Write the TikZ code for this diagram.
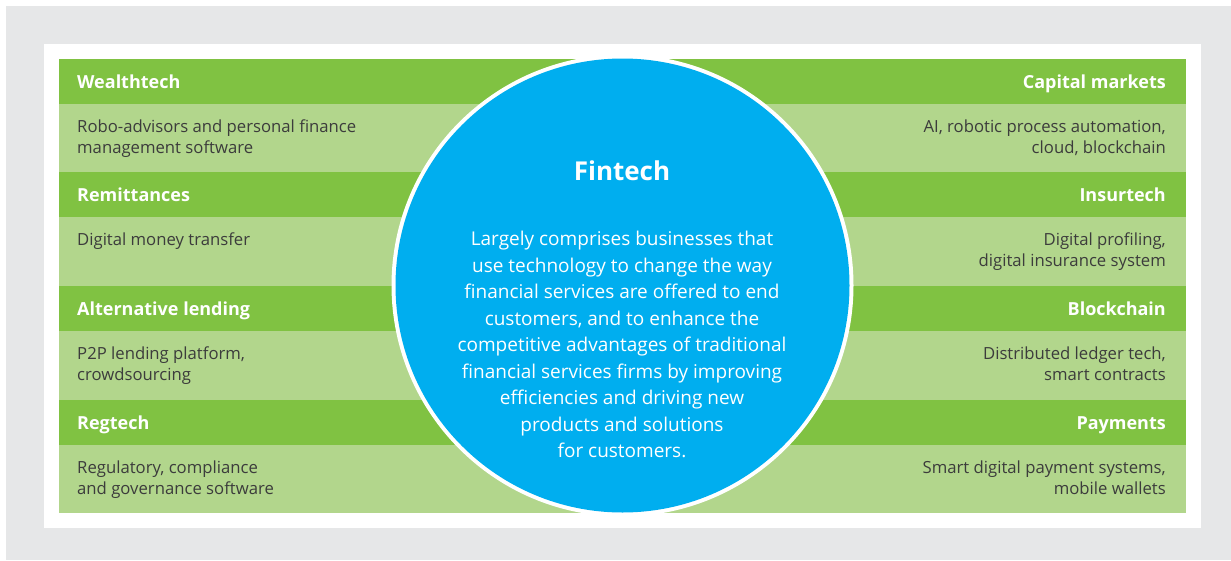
\documentclass[tikz,border=0pt]{standalone}
\usepackage{fontspec}
\setmainfont{Open Sans}
\definecolor{bggray}{HTML}{E6E7E8}
\definecolor{hdgreen}{HTML}{80C242}
\definecolor{ltgreen}{HTML}{B2D68C}
\definecolor{fintechblue}{HTML}{00AEEF}
\definecolor{bodytext}{HTML}{3C3C3C}
\begin{document}
\begin{tikzpicture}[x=1pt,y=-1pt,
  header/.style={font=\fontsize{18}{20}\selectfont\bfseries, text=white, inner sep=0pt},
  body/.style={font=\fontsize{16.7}{21}\selectfont, text=bodytext, inner sep=0pt},
  bandhead/.style={fill=hdgreen, draw=none},
  bandbody/.style={fill=ltgreen, draw=none}]
  % page and frame
  \useasboundingbox (0,0) rectangle (1231,560);
  \fill[white] (0,0) rectangle (1231,560);
  \fill[bggray] (6,6) rectangle (1231,560);
  \fill[white] (44,44) rectangle (1201,528);
  % four green bands, each with a title strip and a description strip
  \foreach \t/\m/\b in {59/104/172, 172/217/286, 286/331/400, 400/445/513} {
    \fill[bandhead] (59,\t) rectangle (1186,\m);
    \fill[bandbody] (59,\m) rectangle (1186,\b);
  }
  % central circle
  \fill[white] (622.5,285.5) circle[radius=231];
  \node[circle, fill=fintechblue, minimum size=454pt, inner sep=0pt] (core) at (622.5,285.5) {};
  \node[font=\fontsize{26}{30}\selectfont\bfseries, text=white] (title) at (622,171) {Fintech};
  \node[font=\fontsize{19}{26.5}\selectfont, text=white, align=center, anchor=north] (desc) at (622,228)
    {Largely comprises businesses that\\
     use technology to change the way\\
     financial services are offered to end\\
     customers, and to enhance the\\
     competitive advantages of traditional\\
     financial services firms by improving\\
     efficiencies and driving new\\
     products and solutions\\
     for customers.};
  % left column
  \node[header, anchor=base west] (wealth) at (77,88.3) {Wealthtech};
  \node[body, anchor=north west, align=left] (wealthd) at (77,120) {Robo-advisors and personal finance\\management software};
  \node[header, anchor=base west] (remit) at (77,201.3) {Remittances};
  \node[body, anchor=north west, align=left] (remitd) at (77,233) {Digital money transfer};
  \node[header, anchor=base west] (alt) at (77,315.3) {Alternative lending};
  \node[body, anchor=north west, align=left] (altd) at (77,347) {P2P lending platform,\\crowdsourcing};
  \node[header, anchor=base west] (reg) at (77,429.3) {Regtech};
  \node[body, anchor=north west, align=left] (regd) at (77,461) {Regulatory, compliance\\and governance software};
  % right column
  \node[header, anchor=base east] (capm) at (1166,88.3) {Capital markets};
  \node[body, anchor=north east, align=right] (capmd) at (1166,120) {AI, robotic process automation,\\cloud, blockchain};
  \node[header, anchor=base east] (ins) at (1166,201.3) {Insurtech};
  \node[body, anchor=north east, align=right] (insd) at (1166,233) {Digital profiling,\\digital insurance system};
  \node[header, anchor=base east] (chain) at (1166,315.3) {Blockchain};
  \node[body, anchor=north east, align=right] (chaind) at (1166,347) {Distributed ledger tech,\\smart contracts};
  \node[header, anchor=base east] (pay) at (1166,429.3) {Payments};
  \node[body, anchor=north east, align=right] (payd) at (1166,461) {Smart digital payment systems,\\mobile wallets};
\end{tikzpicture}
\end{document}
